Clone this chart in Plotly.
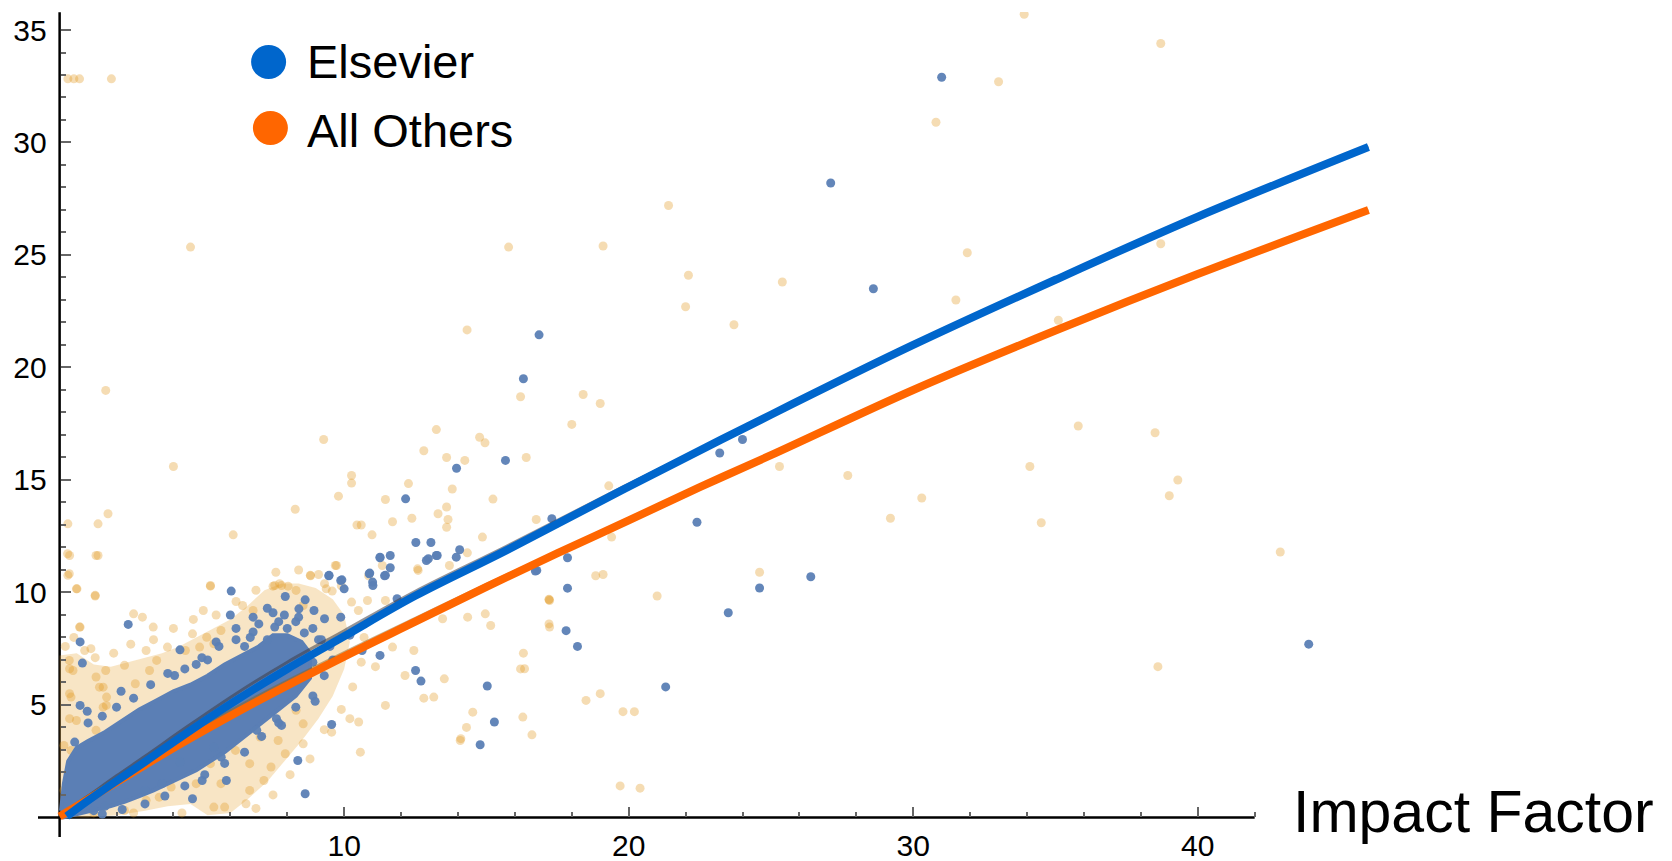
import plotly.graph_objects as go

# ---------------- data ----------------
# fitted curves (Impact Factor -> metric)
elsevier_fit_x = [0.25, 1, 2, 3, 4.5, 6.2, 8, 10, 12.5, 15.7, 20, 25, 30, 35, 40, 46.0]
elsevier_fit_y = [0.05, 0.75, 1.62, 2.47, 3.78, 5.2, 6.6, 8.05, 9.85, 11.87, 14.7, 17.9, 21.0, 23.9, 26.7, 29.8]

others_fit_x = [0, 1, 2, 3, 4.5, 7, 10, 12.5, 15, 17.5, 20, 22.5, 25, 30, 35, 40, 46]
others_fit_y = [0.04, 0.8, 1.57, 2.33, 3.45, 5.2, 7.15, 8.7, 10.25, 11.75, 13.2, 14.68, 16.1, 19.0, 21.64, 24.15, 27.0]

# thin secondary fits drawn under the thick ones
elsevier_alt_x = [0.1, 1, 2, 3, 4.5, 6.2, 8, 10, 12.5, 15.7, 20, 25, 30, 35, 40, 46]
elsevier_alt_y = [0.15, 0.95, 1.85, 2.72, 4.05, 5.5, 6.9, 8.3, 10.05, 12.05, 14.82, 17.95, 21.02, 23.92, 26.72, 29.82]
others_alt_x = [0, 1, 2, 3, 4.5, 7, 10, 12.5, 15, 17.5, 20, 25, 30, 35, 40, 46]
others_alt_y = [0.1, 0.95, 1.75, 2.55, 3.68, 5.42, 7.33, 8.85, 10.36, 11.82, 13.25, 16.12, 19.0, 21.64, 24.15, 27.0]

# dense cloud outlines (where the points merge into a solid area)
elsevier_dense_x = [0.05, 0.15, 0.3, 0.6, 1.0, 1.6, 2.2, 2.8, 3.4, 4.0, 4.6, 5.2, 5.8, 6.4, 7.0, 7.5, 8.0, 8.5, 8.8,
                    8.8, 8.3, 7.8, 7.3, 6.8, 6.3, 5.8, 5.3, 4.8, 4.3, 3.8, 3.3, 2.8, 2.3, 1.8, 1.3, 0.8, 0.4, 0.1]
elsevier_dense_y = [0.3, 1.5, 2.5, 3.1, 3.4, 3.8, 4.3, 4.8, 5.2, 5.6, 5.9, 6.3, 6.8, 7.2, 7.6, 8.1, 8.1, 7.8, 7.3,
                    6.2, 5.4, 4.9, 4.4, 3.9, 3.4, 2.9, 2.5, 2.1, 1.8, 1.5, 1.2, 0.95, 0.7, 0.5, 0.35, 0.2, 0.1, 0.0]

others_dense_x = [0, 0, 0.6, 1.2, 1.8, 2.4, 3.0, 3.6, 4.2, 4.8, 5.4, 6.0, 6.6, 7.2, 7.8, 8.4, 9.0, 9.6, 10.0, 10.2, 10.0,
                  9.6, 9.1, 8.5, 7.9, 7.3, 6.6, 6.0, 5.2, 4.6, 3.8, 3.0, 2.0, 1.0]
others_dense_y = [0, 7.2, 7.3, 6.8, 6.7, 6.9, 7.1, 7.3, 7.6, 8.0, 8.4, 8.8, 9.4, 10.1, 10.4, 10.4, 10.2, 9.7, 9.0, 7.8, 6.6,
                  5.4, 4.4, 3.4, 2.5, 1.6, 0.8, 0.2, 0.1, 0.6, 0.5, 0.3, 0.1, 0.0]

# individual points - Elsevier
elsevier_x = [31.0, 27.1, 28.6, 16.85, 16.3, 15.67, 13.95, 12.16, 23.2, 24.0, 22.4, 17.3, 12.52, 13.05, 13.24, 12.89, 14.06, 13.94,
              11.26, 11.62, 11.62, 11.42, 10.9, 11.01, 9.92, 9.46, 6.03, 17.85, 16.77, 17.85, 26.4, 24.6, 23.5, 21.3, 43.9, 17.8,
              18.2, 14.78, 15.28, 15.03, 12.7, 12.51, 11.26, 10.63, 9.56, 8.98, 8.37, 8.63, 4.67, 2.41, 0.72, 0.8, 0.72, 0.97,
              0.53, 4.23, 4.04, 2.16, 6.8, 7.93, 8.63, 8.41, 8.94, 9.47, 9.88, 10.0, 11.0, 11.26, 12.96, 13.27, 10.88, 11.45,
              11.86, 9.88, 9.31, 7.56, 7.8, 7.62, 6.93, 5.42, 5.68, 5.86, 5.01, 4.23, 16.72,
              6.7, 7.0, 7.3, 7.7, 8.0, 8.3, 8.6, 7.5, 6.5, 6.2, 5.5, 5.2, 4.8, 6.0, 9.1, 8.9, 9.5, 10.2, 3.0, 3.6, 1.2, 1.6,
              1.0, 1.5, 2.0, 2.6, 3.2, 3.8, 4.4, 5.0, 5.6, 6.2, 6.8, 7.3, 7.9, 8.4, 8.9, 9.2,
              1.5, 2.2, 3.0, 3.7, 4.4, 5.1, 5.8, 6.5, 7.1, 7.7, 8.3, 8.9, 9.3, 9.6]
elsevier_y = [32.9, 28.2, 23.5, 21.45, 19.5, 15.87, 15.52, 14.16, 16.2, 16.8, 13.12, 13.28, 12.22, 12.22, 11.64, 11.42, 11.9, 11.57,
              11.54, 11.64, 11.1, 10.74, 10.86, 10.31, 10.56, 10.74, 10.06, 11.54, 10.98, 10.19, 10.7, 10.2, 9.1, 5.8, 7.7, 8.3,
              7.6, 3.23, 4.24, 5.84, 6.06, 6.53, 7.2, 7.42, 4.13, 5.16, 2.53, 1.05, 0.83, 8.58, 7.8, 6.86, 4.98, 4.72,
              3.35, 7.45, 6.31, 5.61, 8.24, 9.82, 9.67, 9.27, 9.2, 10.76, 10.53, 10.16, 10.46, 11.57, 11.5, 11.64, 10.83, 10.76,
              9.72, 8.9, 8.83, 8.46, 4.09, 4.39, 3.87, 3.12, 2.68, 1.64, 1.64, 2.46, 10.95,
              8.0, 8.6, 7.9, 8.7, 8.4, 8.7, 8.2, 9.1, 7.6, 8.4, 7.8, 7.0, 6.8, 9.0, 7.9, 6.9, 7.6, 8.1, 1.2, 1.5, 0.3, 0.5,
              4.2, 4.5, 4.9, 5.3, 5.9, 6.4, 6.6, 7.1, 7.6, 7.9, 8.9, 9.3, 9.0, 8.9, 8.4, 7.9,
              0.15, 0.35, 0.6, 0.95, 1.4, 1.9, 2.4, 2.9, 3.6, 4.2, 4.9, 5.4, 6.3, 7.0]

# individual points - all other publishers
others_x = [0.29, 0.5, 0.7, 1.82, 33.9, 33.0, 38.7, 30.8, 21.4, 31.9, 38.7, 22.0, 22.1, 23.7, 25.4, 31.5, 35.1, 35.8, 38.5, 25.3,
            27.7, 34.1, 34.5, 39.0, 39.3, 30.3, 29.2, 42.9, 38.6, 24.6, 19.8, 20.2, 19.7, 20.4, 19.0, 18.5, 17.2, 17.2, 16.3,
            16.2, 14.1, 14.3, 12.8, 11.1, 19.1, 19.1, 15.78, 4.6, 4.0, 1.62,
            14.32, 16.2, 18.4, 19.0, 18.0, 13.24, 9.28, 14.76, 14.95, 12.8, 16.4, 13.6, 14.24, 10.26, 10.26, 12.26, 9.8, 11.45,
            13.8, 15.23, 8.28, 13.6, 13.3, 13.65, 13.6, 12.38, 10.45, 10.6, 11.7, 6.1, 10.98, 14.86, 16.75, 19.3, 19.4, 18.84,
            21.0, 12.6, 13.7, 9.73, 8.82, 5.3, 7.5, 7.73, 8.03, 9.37, 9.58, 10.86, 11.34, 14.33, 17.2,
            0.29, 1.35, 1.7, 0.35, 1.35, 0.29, 0.61, 1.25, 0.7, 0.88, 1.25, 0.35, 1.62, 1.4, 0.35, 1.64, 0.35,
            1.53, 1.65, 1.28, 2.66, 3.16, 3.41, 4.42, 4.92, 5.17, 5.3, 7.56, 7.8, 8.81, 6.8, 6.43, 5.05, 2.6, 2.91, 3.29, 0.28,
            1.28, 0.34, 0.59, 1.25, 0.72, 0.34, 0.47, 0.4, 0.59, 0.4, 0.59, 1.28, 1.53, 2.28, 3.04, 3.79, 4.67, 5.42, 5.67,
            8.31, 8.56, 9.31, 9.69, 10.26, 10.82, 11.45, 12.58, 14.34, 14.96, 15.15, 12.45, 11.7, 12.14, 13.52, 13.15, 11.45,
            10.51, 10.2, 9.56, 10.57, 14.08, 14.52, 16.34, 16.28, 16.6, 17.22, 17.22, 13.46,
            5.3, 5.67, 5.8, 5.42, 6.68, 6.55, 7.43, 7.93, 8.56, 7.68, 7.05, 8.56, 8.31, 4.8, 3.92, 3.29, 3.04, 2.28, 1.65,
            3.67, 6.18, 6.68, 7.18,
            0.2, 0.5, 1.1, 1.9, 2.5, 3.3, 4.0, 4.7, 5.5, 6.2, 6.9, 7.6, 8.4, 9.1, 9.9, 10.5, 10.7, 10.6, 10.3, 9.9, 9.3,
            8.8, 8.1, 7.5, 6.9, 4.3, 3.5, 2.6, 1.2, 0.9, 0.15, 0.15, 0.4, 0.6]
others_y = [32.83, 32.83, 32.83, 32.83, 35.7, 32.7, 34.4, 30.9, 27.2, 25.1, 25.5, 22.7, 24.1, 21.9, 23.8, 23.0, 22.1, 17.4, 17.1, 15.6,
            15.2, 15.6, 13.1, 14.3, 15.0, 14.2, 13.3, 11.8, 6.7, 10.9, 4.7, 4.7, 1.4, 1.3, 5.5, 5.2, 9.7, 8.6, 7.3,
            6.6, 3.5, 4.0, 5.3, 6.7, 10.8, 25.4, 25.35, 25.35, 15.6, 18.98,
            21.67, 18.7, 18.8, 18.4, 17.47, 17.24, 16.8, 16.9, 16.65, 16.3, 16.0, 16.0, 15.87, 15.2, 14.86, 14.84, 14.28, 14.13,
            14.6, 14.15, 13.7, 13.8, 13.5, 13.24, 12.9, 13.3, 13.0, 13.0, 13.14, 12.56, 12.56, 12.46, 13.24, 14.74, 12.46, 10.74,
            9.84, 10.98, 11.2, 11.2, 10.74, 10.28, 10.28, 10.39, 10.28, 10.16, 10.06, 10.74, 11.2, 11.76, 9.67,
            13.05, 13.05, 13.5, 11.64, 11.64, 10.76, 10.16, 9.84, 8.46, 7.42, 7.1, 6.61, 6.53, 5.79, 5.5, 4.98, 4.39,
            5.79, 5.35, 6.24, 5.94, 6.53, 6.98, 7.42, 7.57, 8.01, 10.31, 10.31, 10.31, 10.76, 9.2, 9.42, 9.2, 9.05, 8.9, 8.46, 11.72,
            11.64, 10.83, 10.16, 9.87, 8.46, 6.98, 6.53, 5.35, 4.31, 2.98, 2.09, 3.87, 4.9, 6.76, 7.42, 7.57, 8.16, 7.72, 8.31,
            10.09, 9.42, 10.39, 11.2, 9.57, 9.64, 9.64, 11.05, 8.9, 9.05, 8.53, 7.42, 7.57, 6.31, 6.16, 5.35, 4.98,
            4.24, 4.39, 3.79, 2.9, 3.42, 4.68, 6.61, 4.46, 3.67, 9.64, 8.46, 8.83,
            2.39, 1.5, 0.46, 0.46, 1.2, 0.61, 2.24, 2.83, 3.27, 3.42, 3.57, 4.16, 4.76, 1.5, 1.35, 1.5, 0.76, 0.31, 0.61,
            2.01, 2.98, 2.39, 1.64,
            7.6, 8.0, 7.5, 7.3, 7.7, 7.9, 8.4, 8.8, 9.0, 9.6, 10.1, 10.9, 11.0, 10.8, 10.3, 9.2, 8.0, 6.9, 5.8, 4.8, 3.9,
            2.6, 1.9, 1.0, 0.4, 0.2, 0.9, 0.2, 0.2, 1.6, 1.2, 3.2, 2.4, 0.8]

series_names = ["Elsevier", "All Others"]
x_tick_vals = [10, 20, 30, 40]
x_minor_vals = [2, 4, 6, 8, 12, 14, 16, 18, 22, 24, 26, 28, 32, 34, 36, 38, 42]
y_tick_vals = [5, 10, 15, 20, 25, 30, 35]
y_minor_vals = [v for v in range(1, 36) if v % 5 != 0]
x_axis_label = "Impact Factor"

# ---------------- styling / layout ----------------
FONT = "Liberation Sans, Arial, Helvetica, sans-serif"
W, H = 1672, 861
ML, MR, MT, MB = 38, 295, 12, 24
X_RANGE = [-0.76, 46.3]
Y_RANGE = [-0.87, 35.8]
X_AXIS_END = 42.0
Y_AXIS_TOP = 35.79
PW, PH = W - ML - MR, H - MT - MB

BLUE_LINE = "#0066CC"
ORANGE_LINE = "#FF6600"
BLUE_PT = "#5B7FB5"
ORANGE_PT = "rgba(226,156,36,0.35)"


def px_x(px):
    return (px - ML) / PW


def px_y(py):
    return (H - MB - py) / PH


fig = go.Figure()

# others: dense area + points
fig.add_trace(go.Scatter(x=others_dense_x, y=others_dense_y, mode="lines", fill="toself",
                         fillcolor="rgba(232,168,62,0.30)", line=dict(width=0), hoverinfo="skip"))
fig.add_trace(go.Scatter(x=others_x, y=others_y, mode="markers", name=series_names[1],
                         marker=dict(size=9, color=ORANGE_PT, line=dict(width=0))))
# elsevier: dense area + points
fig.add_trace(go.Scatter(x=elsevier_dense_x, y=elsevier_dense_y, mode="lines", fill="toself",
                         fillcolor=BLUE_PT, line=dict(width=4, color=BLUE_PT), hoverinfo="skip"))
fig.add_trace(go.Scatter(x=elsevier_x, y=elsevier_y, mode="markers", name=series_names[0],
                         marker=dict(size=9, color=BLUE_PT, opacity=0.95, line=dict(width=0))))

# thin secondary fits
fig.add_trace(go.Scatter(x=elsevier_alt_x, y=elsevier_alt_y, mode="lines",
                         line=dict(color="rgba(60,60,70,0.55)", width=3, shape="spline")))
fig.add_trace(go.Scatter(x=others_alt_x, y=others_alt_y, mode="lines",
                         line=dict(color="rgba(140,100,30,0.5)", width=3, shape="spline")))
# thick fits
fig.add_trace(go.Scatter(x=others_fit_x, y=others_fit_y, mode="lines",
                         line=dict(color=ORANGE_LINE, width=8, shape="spline")))
fig.add_trace(go.Scatter(x=elsevier_fit_x, y=elsevier_fit_y, mode="lines",
                         line=dict(color=BLUE_LINE, width=8, shape="spline")))

tick_common = dict(showline=False, zeroline=False, showgrid=False, ticks="inside", ticklen=10,
                   tickwidth=1.5, tickcolor="#666666", tickfont=dict(family=FONT, size=30, color="black"),
                   anchor="free")

fig.update_layout(
    width=W, height=H,
    margin=dict(l=ML, r=MR, t=MT, b=MB, autoexpand=False),
    paper_bgcolor="white", plot_bgcolor="white",
    showlegend=False,
    xaxis=dict(range=X_RANGE, position=(0 - Y_RANGE[0]) / (Y_RANGE[1] - Y_RANGE[0]),
               tickmode="array", tickvals=x_tick_vals, ticktext=[str(v) for v in x_tick_vals],
               ticklabelstandoff=8,
               minor=dict(tickmode="array", tickvals=x_minor_vals, ticks="inside", ticklen=5,
                          tickwidth=1.5, tickcolor="#666666"),
               **tick_common),
    yaxis=dict(range=Y_RANGE, position=(0 - X_RANGE[0]) / (X_RANGE[1] - X_RANGE[0]),
               tickmode="array", tickvals=y_tick_vals, ticktext=[str(v) for v in y_tick_vals],
               ticklabelstandoff=13,
               minor=dict(tickmode="array", tickvals=y_minor_vals, ticks="inside", ticklen=5,
                          tickwidth=1.5, tickcolor="#666666"),
               **tick_common),
    shapes=[
        dict(type="line", xref="x", yref="y", x0=X_RANGE[0], x1=X_AXIS_END, y0=0, y1=0,
             line=dict(color="black", width=2.5), layer="below"),
        dict(type="line", xref="x", yref="y", x0=0, x1=0, y0=Y_RANGE[0], y1=Y_AXIS_TOP,
             line=dict(color="black", width=2.5), layer="below"),
        # legend symbols
        dict(type="circle", xref="paper", yref="paper", xsizemode="pixel", ysizemode="pixel",
             xanchor=px_x(268.6), yanchor=px_y(62), x0=-17.5, x1=17.5, y0=-17, y1=17,
             fillcolor=BLUE_LINE, line=dict(width=0)),
        dict(type="circle", xref="paper", yref="paper", xsizemode="pixel", ysizemode="pixel",
             xanchor=px_x(270.4), yanchor=px_y(128), x0=-17.5, x1=17.5, y0=-17, y1=17,
             fillcolor=ORANGE_LINE, line=dict(width=0)),
    ],
    annotations=[
        dict(text=series_names[0], xref="paper", yref="paper", x=px_x(305), y=px_y(62),
             xanchor="left", yanchor="middle", showarrow=False, font=dict(family=FONT, size=47, color="black")),
        dict(text=series_names[1], xref="paper", yref="paper", x=px_x(305), y=px_y(130),
             xanchor="left", yanchor="middle", showarrow=False, font=dict(family=FONT, size=47, color="black")),
        dict(text=x_axis_label, xref="paper", yref="paper", x=px_x(1291), y=px_y(812),
             xanchor="left", yanchor="middle", showarrow=False, font=dict(family=FONT, size=59, color="black")),
    ],
)

# the page's default 8px body margin would shift the figure; remove it
fig.write_html("out.html", config={"displayModeBar": False},
               post_script="document.body.style.margin='0px';")
